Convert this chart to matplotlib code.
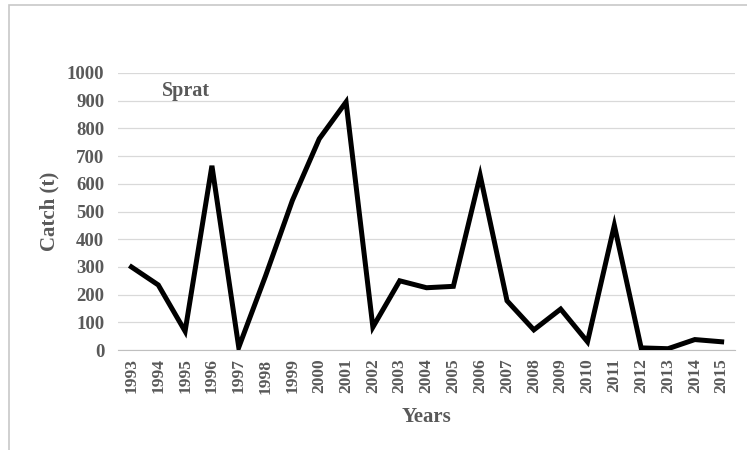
import matplotlib
matplotlib.use('Agg')
import matplotlib.pyplot as plt
from matplotlib.patches import Rectangle
import numpy as np

years = [str(y) for y in range(1993, 2016)]
catch = [300, 235, 68, 665, 10, 268, 540, 762, 895, 83, 250, 225, 230, 630,
         178, 73, 148, 30, 450, 8, 5, 38, 30]

gray = '#595959'
plt.rcParams['font.family'] = ['Liberation Serif', 'DejaVu Serif']
plt.rcParams['font.weight'] = 'bold'

fig = plt.figure(figsize=(7.47, 4.5), dpi=100)
ax = fig.add_axes([0.158, 0.222, 0.826, 0.616])

# light frame at top/left like the cropped source
fig.patches.append(Rectangle((9 / 747, -0.1), 2, 1.1 - 5 / 450, transform=fig.transFigure,
                             fill=False, edgecolor='#c8c8c8', linewidth=1.2))

pos = np.arange(len(years))
ax.plot(pos, catch, color='black', linewidth=3.6, solid_joinstyle='miter', zorder=3)

ax.set_xlim(-0.5, len(years) - 0.5)
ax.set_ylim(0, 1000)
ax.set_yticks(np.arange(0, 1001, 100))
ax.set_xticks(pos)
ax.set_xticklabels(years, rotation=90, fontsize=12.5, color=gray, fontweight='bold')
for lab in ax.get_yticklabels():
    lab.set_fontsize(13.5)
    lab.set_color(gray)
    lab.set_fontweight('bold')

ax.grid(axis='y', color='#d9d9d9', linewidth=0.9)
ax.set_axisbelow(True)
for s in ['top', 'right', 'left']:
    ax.spines[s].set_visible(False)
ax.spines['bottom'].set_color('#bfbfbf')
ax.tick_params(length=0, pad=6)
ax.tick_params(axis='y', pad=10)

ax.set_ylabel('Catch (t)', fontsize=15, color=gray, fontweight='bold', labelpad=5)
ax.set_xlabel('Years', fontsize=15, color=gray, fontweight='bold', labelpad=10)
ax.text(1.15, 915, 'Sprat', fontsize=14.5, color=gray, fontweight='bold')

fig.savefig('out.png', dpi=100)
